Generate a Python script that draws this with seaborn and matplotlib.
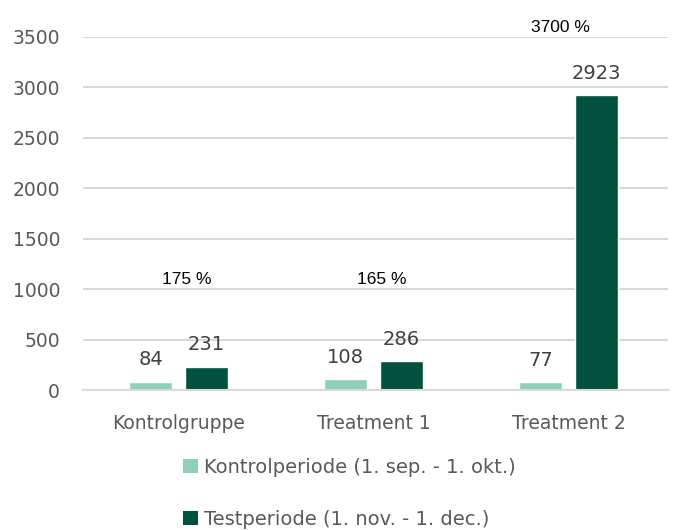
import matplotlib
matplotlib.use("Agg")
import matplotlib.pyplot as plt
import seaborn as sns
import pandas as pd
from matplotlib.patches import Patch

categories = ["Kontrolgruppe", "Treatment 1", "Treatment 2"]
kontrol_values = [84, 108, 77]
test_values = [231, 286, 2923]
series_names = ["Kontrolperiode (1. sep. - 1. okt.)", "Testperiode (1. nov. - 1. dec.)"]
pct_labels = ["175 %", "165 %", "3700 %"]
y_ticks = [0, 500, 1000, 1500, 2000, 2500, 3000, 3500]

LIGHT = "#8ED0B7"
DARK = "#02513F"
GRID = "#D9D9D9"
TXT = "#595959"

sns.set_theme(style="white")
plt.rcParams["font.family"] = ["DejaVu Sans"]

df = pd.DataFrame({
    "group": categories * 2,
    "value": kontrol_values + test_values,
    "period": [series_names[0]] * 3 + [series_names[1]] * 3,
})

fig = plt.figure(figsize=(6.74, 5.30), dpi=100)
ax = fig.add_axes([83 / 674, 1 - 390 / 530, (668 - 83) / 674, (390 - 37) / 530])

sns.barplot(data=df, x="group", y="value", hue="period", palette=[LIGHT, DARK],
            width=0.574, gap=0.23, ax=ax, saturation=1, legend=False)

ax.set_ylim(0, 3500)
ax.set_xlim(-0.49, 2.51)
ax.set_yticks(y_ticks)
ax.set_yticklabels([str(t) for t in y_ticks])
ax.set_xlabel("")
ax.set_ylabel("")
ax.yaxis.grid(True, color=GRID, linewidth=1.5)
ax.set_axisbelow(True)
for s in ["top", "right", "left"]:
    ax.spines[s].set_visible(False)
ax.spines["bottom"].set_color(GRID)
ax.spines["bottom"].set_linewidth(1.5)
ax.tick_params(axis="y", length=0, pad=16.5, labelsize=13.5, labelcolor=TXT)
ax.tick_params(axis="x", length=0, pad=17.5, labelsize=13.5, labelcolor=TXT)

for cont in ax.containers:
    ax.bar_label(cont, fmt="%d", padding=9, fontsize=14, color="#404040")

# percentage annotations (positions are layout)
pct_pos = [(0.04, 1100), (1.04, 1100), (1.96, 3590)]
for lab, (x, y) in zip(pct_labels, pct_pos):
    ax.text(x, y, lab, ha="center", va="center", fontsize=12.5, color="black",
            family="Liberation Sans", clip_on=False)

handles = [Patch(facecolor=LIGHT, edgecolor="none"), Patch(facecolor=DARK, edgecolor="none")]
fig.legend(handles, series_names, loc="upper left",
           bbox_to_anchor=(183 / 674, 1 - 458 / 530), frameon=False,
           fontsize=14, labelcolor=TXT, handlelength=0.75, handleheight=0.75,
           handletextpad=0.35, labelspacing=1.68, borderpad=0, borderaxespad=0)

fig.savefig("out.png", dpi=100)
